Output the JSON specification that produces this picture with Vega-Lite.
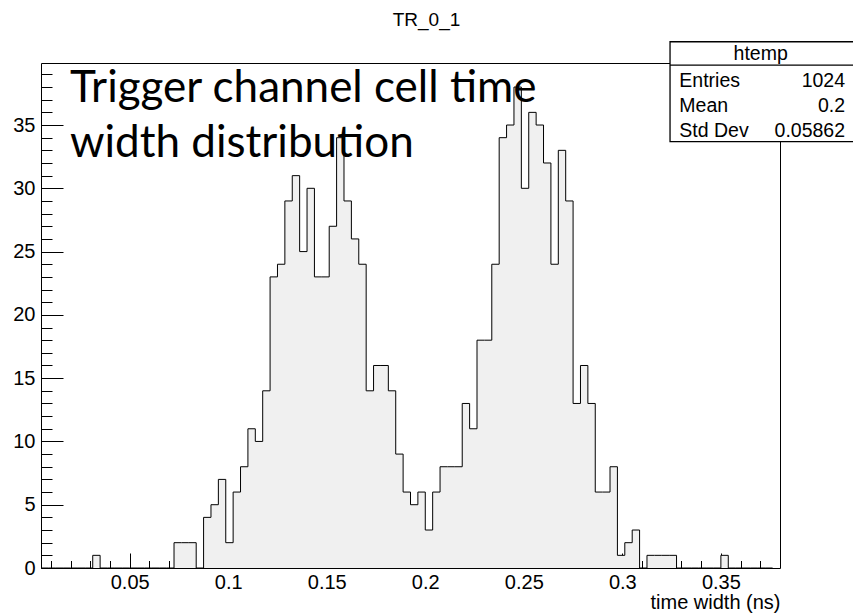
{
  "$schema": "https://vega.github.io/schema/vega-lite/v6.json",
  "width": 739,
  "height": 505,
  "autosize": "none",
  "padding": {"left": 41, "top": 63, "right": 73, "bottom": 46},
  "background": "white",
  "title": {
    "text": "TR_0_1",
    "font": "Liberation Sans",
    "fontSize": 19,
    "fontWeight": "normal",
    "color": "black",
    "anchor": "middle",
    "frame": "group",
    "dx": 16,
    "offset": -4,
    "baseline": "alphabetic"
  },
  "config": {
    "view": {"stroke": "black", "strokeWidth": 1},
    "axis": {
      "grid": false,
      "domain": false,
      "labelFont": "Liberation Sans",
      "labelFontSize": 20,
      "labelColor": "black",
      "tickColor": "black",
      "tickWidth": 1,
      "labelOverlap": false,
      "labelBound": false,
      "labelFlush": false,
      "titleFont": "Liberation Sans",
      "titleFontWeight": "normal",
      "titleColor": "black"
    }
  },
  "datasets": {
    "bins": [
      {"lo": 0.005, "n": 0}, {"lo": 0.00875, "n": 0}, {"lo": 0.0125, "n": 0}, {"lo": 0.01625, "n": 0},
      {"lo": 0.02, "n": 0}, {"lo": 0.02375, "n": 0}, {"lo": 0.0275, "n": 0}, {"lo": 0.03125, "n": 1},
      {"lo": 0.035, "n": 0}, {"lo": 0.03875, "n": 0}, {"lo": 0.0425, "n": 0}, {"lo": 0.04625, "n": 0},
      {"lo": 0.05, "n": 0}, {"lo": 0.05375, "n": 0}, {"lo": 0.0575, "n": 0}, {"lo": 0.06125, "n": 0},
      {"lo": 0.065, "n": 0}, {"lo": 0.06875, "n": 0}, {"lo": 0.0725, "n": 2}, {"lo": 0.07625, "n": 2},
      {"lo": 0.08, "n": 2}, {"lo": 0.08375, "n": 0}, {"lo": 0.0875, "n": 4}, {"lo": 0.09125, "n": 5},
      {"lo": 0.095, "n": 7}, {"lo": 0.09875, "n": 2}, {"lo": 0.1025, "n": 6}, {"lo": 0.10625, "n": 8},
      {"lo": 0.11, "n": 11}, {"lo": 0.11375, "n": 10}, {"lo": 0.1175, "n": 14}, {"lo": 0.12125, "n": 23},
      {"lo": 0.125, "n": 24}, {"lo": 0.12875, "n": 29}, {"lo": 0.1325, "n": 31}, {"lo": 0.13625, "n": 25},
      {"lo": 0.14, "n": 30}, {"lo": 0.14375, "n": 23}, {"lo": 0.1475, "n": 23}, {"lo": 0.15125, "n": 27},
      {"lo": 0.155, "n": 34}, {"lo": 0.15875, "n": 29}, {"lo": 0.1625, "n": 26}, {"lo": 0.16625, "n": 24},
      {"lo": 0.17, "n": 14}, {"lo": 0.17375, "n": 16}, {"lo": 0.1775, "n": 16}, {"lo": 0.18125, "n": 14},
      {"lo": 0.185, "n": 9}, {"lo": 0.18875, "n": 6}, {"lo": 0.1925, "n": 5}, {"lo": 0.19625, "n": 6},
      {"lo": 0.2, "n": 3}, {"lo": 0.20375, "n": 6}, {"lo": 0.2075, "n": 8}, {"lo": 0.21125, "n": 8},
      {"lo": 0.215, "n": 8}, {"lo": 0.21875, "n": 13}, {"lo": 0.2225, "n": 11}, {"lo": 0.22625, "n": 18},
      {"lo": 0.23, "n": 18}, {"lo": 0.23375, "n": 24}, {"lo": 0.2375, "n": 34}, {"lo": 0.24125, "n": 35},
      {"lo": 0.245, "n": 38}, {"lo": 0.24875, "n": 30}, {"lo": 0.2525, "n": 36}, {"lo": 0.25625, "n": 35},
      {"lo": 0.26, "n": 32}, {"lo": 0.26375, "n": 24}, {"lo": 0.2675, "n": 33}, {"lo": 0.27125, "n": 29},
      {"lo": 0.275, "n": 13}, {"lo": 0.27875, "n": 16}, {"lo": 0.2825, "n": 13}, {"lo": 0.28625, "n": 6},
      {"lo": 0.29, "n": 6}, {"lo": 0.29375, "n": 8}, {"lo": 0.2975, "n": 1}, {"lo": 0.30125, "n": 2},
      {"lo": 0.305, "n": 3}, {"lo": 0.30875, "n": 0}, {"lo": 0.3125, "n": 1}, {"lo": 0.31625, "n": 1},
      {"lo": 0.32, "n": 1}, {"lo": 0.32375, "n": 1}, {"lo": 0.3275, "n": 0}, {"lo": 0.33125, "n": 0},
      {"lo": 0.335, "n": 0}, {"lo": 0.33875, "n": 0}, {"lo": 0.3425, "n": 0}, {"lo": 0.34625, "n": 0},
      {"lo": 0.35, "n": 1}, {"lo": 0.35375, "n": 0}, {"lo": 0.3575, "n": 0}, {"lo": 0.36125, "n": 0},
      {"lo": 0.365, "n": 0}, {"lo": 0.36875, "n": 0}, {"lo": 0.3725, "n": 0}, {"lo": 0.37625, "n": 0}
    ],
    "stats": [
      {"stat": "Entries", "value": "1024"},
      {"stat": "Mean", "value": "0.2"},
      {"stat": "Std Dev", "value": "0.05862"}
    ]
  },
  "layer": [
    {
      "layer": [
        {
          "data": {"name": "bins"},
          "mark": {"type": "area", "interpolate": "step-after", "fill": "#f0f0f0"},
          "encoding": {
            "x": {
              "field": "lo",
              "type": "quantitative",
              "scale": {"domain": [0.005, 0.38], "nice": false, "zero": false},
              "axis": {
                "orient": "bottom",
                "values": [0.05, 0.1, 0.15, 0.2, 0.25, 0.3, 0.35],
                "format": ".2~f",
                "labelOverlap": false,
                "tickSize": -15,
                "labelPadding": 19,
                "title": "time width (ns)",
                "titleFontSize": 20,
                "titleAnchor": "end",
                "titleAlign": "right",
                "titleBaseline": "top",
                "titlePadding": 0
              }
            },
            "y": {
              "field": "n",
              "type": "quantitative",
              "scale": {"domain": [0, 39.9], "nice": false, "zero": false},
              "axis": {
                "orient": "left",
                "values": [0, 5, 10, 15, 20, 25, 30, 35],
                "labelOverlap": false,
                "tickSize": -22,
                "labelPadding": 28,
                "title": null
              }
            }
          }
        },
        {
          "data": {"name": "bins"},
          "mark": {"type": "line", "interpolate": "step-after", "color": "black", "strokeWidth": 1},
          "encoding": {
            "x": {
              "field": "lo",
              "type": "quantitative",
              "scale": {"domain": [0.005, 0.38], "nice": false, "zero": false},
              "axis": {
                "orient": "bottom",
                "values": [0.01, 0.02, 0.03, 0.04, 0.06, 0.07, 0.08, 0.09, 0.11, 0.12, 0.13, 0.14, 0.16, 0.17, 0.18, 0.19, 0.21, 0.22, 0.23, 0.24, 0.26, 0.27, 0.28, 0.29, 0.31, 0.32, 0.33, 0.34, 0.36, 0.37],
                "labels": false,
                "tickSize": -7.5,
                "title": null
              }
            },
            "y": {
              "field": "n",
              "type": "quantitative",
              "scale": {"domain": [0, 39.9], "nice": false, "zero": false},
              "axis": {
                "orient": "left",
                "values": [1, 2, 3, 4, 6, 7, 8, 9, 11, 12, 13, 14, 16, 17, 18, 19, 21, 22, 23, 24, 26, 27, 28, 29, 31, 32, 33, 34, 36, 37, 38, 39],
                "labels": false,
                "tickSize": -11,
                "title": null
              }
            }
          }
        },
        {
          "data": {"values": [{"note": "Trigger channel cell time\nwidth distribution"}]},
          "mark": {
            "type": "text",
            "font": "Lato",
            "fontSize": 44,
            "align": "left",
            "baseline": "alphabetic",
            "lineBreak": "\n",
            "lineHeight": 55,
            "color": "black"
          },
          "encoding": {
            "x": {"datum": 0.0197, "type": "quantitative", "scale": {"domain": [0.005, 0.38], "nice": false, "zero": false}, "axis": null},
            "y": {"datum": 36.84, "type": "quantitative", "scale": {"domain": [0, 39.9], "nice": false, "zero": false}, "axis": null},
            "text": {"field": "note"}
          }
        },
        {
          "data": {"values": [{"name": "htemp"}]},
          "layer": [
            {
              "mark": {"type": "rect", "fill": "white", "stroke": "black", "strokeWidth": 1.3},
              "encoding": {
                "x": {"datum": 0.3242, "type": "quantitative", "scale": {"domain": [0.005, 0.38], "nice": false, "zero": false}, "axis": null},
                "x2": {"datum": 0.4185},
                "y": {"datum": 41.58, "type": "quantitative", "scale": {"domain": [0, 39.9], "nice": false, "zero": false}, "axis": null},
                "y2": {"datum": 33.68}
              }
            },
            {
              "mark": {"type": "rule", "stroke": "black", "strokeWidth": 1.3},
              "encoding": {
                "x": {"datum": 0.3242, "type": "quantitative", "scale": {"domain": [0.005, 0.38], "nice": false, "zero": false}, "axis": null},
                "x2": {"datum": 0.4185},
                "y": {"datum": 39.74, "type": "quantitative", "scale": {"domain": [0, 39.9], "nice": false, "zero": false}, "axis": null}
              }
            },
            {
              "mark": {"type": "text", "font": "Liberation Sans", "fontSize": 19.5, "align": "center", "baseline": "alphabetic", "color": "black"},
              "encoding": {
                "x": {"datum": 0.3702, "type": "quantitative", "scale": {"domain": [0.005, 0.38], "nice": false, "zero": false}, "axis": null},
                "y": {"datum": 40.14, "type": "quantitative", "scale": {"domain": [0, 39.9], "nice": false, "zero": false}, "axis": null},
                "text": {"field": "name"}
              }
            }
          ]
        }
      ],
      "resolve": {"axis": {"x": "independent", "y": "independent"}}
    },
    {
      "data": {"name": "stats"},
      "encoding": {
        "y": {
          "field": "stat",
          "type": "nominal",
          "sort": null,
          "scale": {"type": "point", "domain": ["Entries", "Mean", "Std Dev"], "range": [24.3, 74.3], "padding": 0},
          "axis": null
        }
      },
      "layer": [
        {
          "mark": {"type": "text", "font": "Liberation Sans", "fontSize": 19.5, "align": "left", "baseline": "alphabetic", "color": "black"},
          "encoding": {
            "x": {"datum": 0.3289, "type": "quantitative", "scale": {"domain": [0.005, 0.38], "nice": false, "zero": false}, "axis": null},
            "text": {"field": "stat"}
          }
        },
        {
          "mark": {"type": "text", "font": "Liberation Sans", "fontSize": 19.5, "align": "right", "baseline": "alphabetic", "color": "black"},
          "encoding": {
            "x": {"datum": 0.413, "type": "quantitative", "scale": {"domain": [0.005, 0.38], "nice": false, "zero": false}, "axis": null},
            "text": {"field": "value"}
          }
        }
      ]
    }
  ],
  "resolve": {"scale": {"y": "independent"}}
}
